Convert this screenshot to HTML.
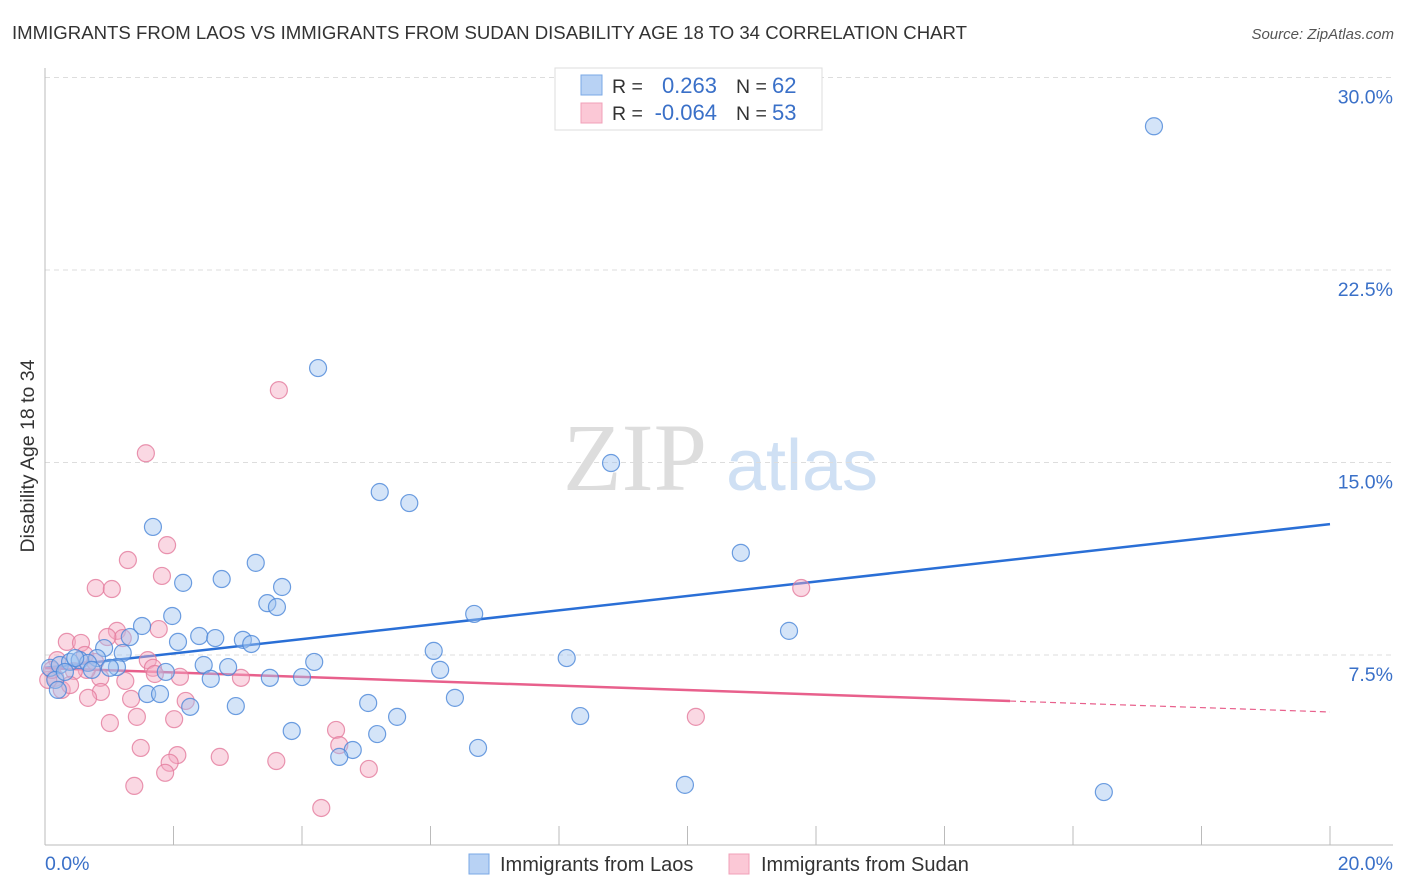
<!DOCTYPE html>
<html><head><meta charset="utf-8"><style>
body{margin:0;background:#fff;font-family:"Liberation Sans",sans-serif;}
svg{display:block}
</style></head><body>
<svg id="chart" width="1406" height="892" xmlns="http://www.w3.org/2000/svg">
<text x="12" y="39" font-size="18.6" fill="#333">IMMIGRANTS FROM LAOS VS IMMIGRANTS FROM SUDAN DISABILITY AGE 18 TO 34 CORRELATION CHART</text>
<text x="1394" y="39" font-size="15" fill="#555" text-anchor="end" font-style="italic">Source: ZipAtlas.com</text>
<text transform="translate(34,456) rotate(-90)" font-size="19.5" fill="#333" text-anchor="middle">Disability Age 18 to 34</text>
<g>
<text x="635" y="490" font-size="96" fill="#ddd" font-family="Liberation Serif" text-anchor="middle">ZIP</text>
<text x="802" y="490" font-size="72" fill="#cfe0f4" text-anchor="middle">atlas</text>
</g>
<g id="grid"></g><g id="axes"></g><g id="trend"></g><g id="pts"></g>
<g>
<rect x="555" y="68" width="267" height="62" fill="#fff" stroke="#ddd"/>
<rect x="581" y="75" width="21" height="20" fill="#b8d2f4" stroke="#7aa8e6"/>
<rect x="581" y="103" width="21" height="20" fill="#fbc8d6" stroke="#f0a0b8"/>
<text x="612" y="93" font-size="19.5" fill="#333">R =</text>
<text x="717" y="93" font-size="22" fill="#3a70c8" text-anchor="end">0.263</text>
<text x="736" y="93" font-size="19.5" fill="#333">N =</text>
<text x="772" y="93" font-size="22" fill="#3a70c8">62</text>
<text x="612" y="120" font-size="19.5" fill="#333">R =</text>
<text x="717" y="120" font-size="22" fill="#3a70c8" text-anchor="end">-0.064</text>
<text x="736" y="120" font-size="19.5" fill="#333">N =</text>
<text x="772" y="120" font-size="22" fill="#3a70c8">53</text>
</g>
<g>
<rect x="469" y="854" width="20" height="20" fill="#b8d2f4" stroke="#7aa8e6"/>
<text x="500" y="871" font-size="20" fill="#333">Immigrants from Laos</text>
<rect x="729" y="854" width="20" height="20" fill="#fbc8d6" stroke="#f0a0b8"/>
<text x="761" y="871" font-size="20" fill="#333">Immigrants from Sudan</text>
</g>
</svg>
<script>
const laosX=[17.26,4.25,8.81,5.21,5.67,1.68,10.83,3.28,2.15,2.75,3.69,3.46,3.61,1.98,6.68,1.51,11.58,1.32,2.07,2.40,2.65,3.08,3.21,6.05,8.12,1.21,0.92,0.81,4.19,2.47,2.85,1.88,1.12,6.15,2.58,3.50,4.00,1.59,1.79,2.26,2.97,5.03,6.38,5.48,8.33,3.84,5.17,4.79,4.58,6.74,9.96,16.48,0.08,0.23,0.39,0.54,0.67,0.16,0.31,0.47,0.73,0.20,1.01];
const laosY=[28.1,18.68,14.98,13.85,13.42,12.49,11.48,11.09,10.31,10.46,10.15,9.52,9.37,9.02,9.10,8.63,8.44,8.20,8.01,8.24,8.16,8.09,7.93,7.66,7.38,7.58,7.77,7.38,7.23,7.11,7.03,6.84,7.03,6.92,6.57,6.61,6.64,5.98,5.98,5.48,5.51,5.63,5.83,5.09,5.12,4.54,4.42,3.80,3.53,3.88,2.44,2.16,7.0,7.11,7.23,7.3,7.19,6.53,6.84,7.38,6.92,6.14,7.0];
const sudanX=[3.64,1.57,1.90,1.29,1.82,0.79,1.04,11.77,1.77,1.12,1.21,0.34,0.56,0.97,1.60,1.68,1.71,2.10,3.05,1.25,0.86,0.65,0.45,0.19,0.16,0.26,0.87,0.67,1.34,2.19,1.43,1.01,2.01,10.13,4.53,4.58,1.49,2.06,2.72,3.60,1.94,1.87,5.04,1.39,4.30,0.05,0.11,0.62,0.78,0.39];
const sudanY=[17.82,15.36,11.78,11.2,10.58,10.11,10.07,10.11,8.51,8.44,8.16,8.01,7.97,8.20,7.30,7.0,6.76,6.65,6.61,6.49,6.61,6.92,6.88,7.30,6.61,6.14,6.06,5.83,5.79,5.71,5.09,4.85,5.0,5.09,4.58,3.99,3.88,3.60,3.53,3.37,3.30,2.91,3.06,2.40,1.54,6.53,6.92,7.5,7.23,6.33];
const yTicks=[7.5,15,22.5,30];
const xTickLabels=["0.0%","20.0%"];
const laosTrend=[7.0,12.6];
const sudanTrend=[6.99,5.28];
const NS="http://www.w3.org/2000/svg";
const X0=45,X1=1330,Y0=847.5,PY=192.5/7.5;
const sx=v=>X0+(v/20)*(X1-X0), sy=v=>Y0-v*PY;
function mk(p,tag,a){const e=document.createElementNS(NS,tag);for(const k in a)e.setAttribute(k,a[k]);p.appendChild(e);return e;}
const grid=document.getElementById('grid'),axes=document.getElementById('axes'),tr=document.getElementById('trend'),pts=document.getElementById('pts');
yTicks.forEach(t=>{
 const l=mk(grid,'line',{x1:X0,x2:1393,y1:sy(t),y2:sy(t),stroke:'#ddd','stroke-dasharray':'5,4'});
 
 
 const tx=mk(axes,'text',{x:1393,y:sy(t)+26,'font-size':19.5,fill:'#3a70c8','text-anchor':'end'});
 tx.textContent=t.toFixed(1)+'%';
 
 
});
const la=mk(axes,'line',{x1:X0,x2:X0,y1:68,y2:845,stroke:'#bbb'});


const ba=mk(axes,'line',{x1:X0,x2:1393,y1:845,y2:845,stroke:'#bbb'});


for(let i=0;i<=10;i++){const tk=mk(axes,'line',{x1:sx(i*2),x2:sx(i*2),y1:826,y2:845,stroke:'#bbb'});
 
 }
[[0,'start',45],[20,'end',1393]].forEach((d,i)=>{const t=mk(axes,'text',{x:d[2],y:870,'font-size':19.5,fill:'#3a70c8','text-anchor':d[1]});t.textContent=xTickLabels[i];
 
 });
function dots(xs,ys,fill,stroke,name){xs.forEach((x,i)=>{const c=mk(pts,'circle',{cx:sx(x),cy:sy(ys[i]),r:8.5,fill:fill,'fill-opacity':0.45,stroke:stroke,'stroke-opacity':0.8,'stroke-width':1.2});
 
 });}
dots(sudanX,sudanY,'#f4a8c0','#e47a9c','sudan-point');
dots(laosX,laosY,'#a0c4f0','#4a86d8','laos-point');
const bl=mk(tr,'line',{x1:sx(0),y1:sy(laosTrend[0]),x2:sx(20),y2:sy(laosTrend[1]),stroke:'#2a6fd6','stroke-width':2.5});


const xm=15.02,ym=sudanTrend[0]+(sudanTrend[1]-sudanTrend[0])*xm/20;
const pl=mk(tr,'line',{x1:sx(0),y1:sy(sudanTrend[0]),x2:sx(xm),y2:sy(ym),stroke:'#e8608c','stroke-width':2.5});


const pd=mk(tr,'line',{x1:sx(xm),y1:sy(ym),x2:sx(20),y2:sy(sudanTrend[1]),stroke:'#e8608c','stroke-width':1.2,'stroke-dasharray':'6,4'});


</script>
</body></html>
